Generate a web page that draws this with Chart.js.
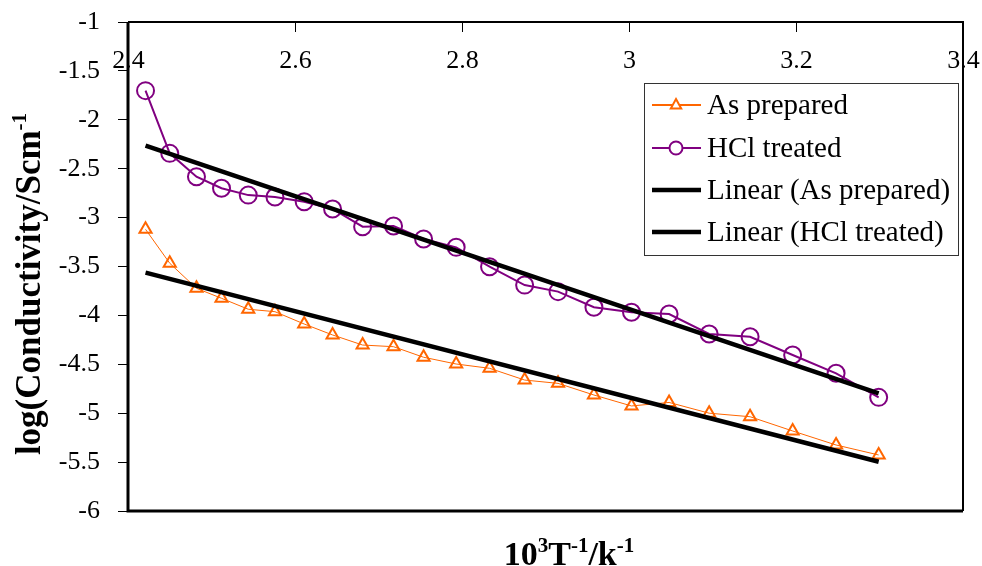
<!DOCTYPE html>
<html>
<head>
<meta charset="utf-8">
<script src="https://cdn.jsdelivr.net/npm/chart.js@4/dist/chart.umd.min.js"></script>
<style>
  body { margin: 0; background: #fff; }
  canvas { display: block; }
</style>
</head>
<body>
<canvas id="cond" width="982" height="566"></canvas>
<script>
// conductivity vs inverse temperature

const xValues = [2.421, 2.450, 2.482, 2.512, 2.544, 2.576, 2.611, 2.645, 2.681, 2.718, 2.754, 2.793,
                 2.833, 2.875, 2.915, 2.958, 3.003, 3.048, 3.096, 3.145, 3.196, 3.248, 3.299];

const asPrepared = [-3.12, -3.467, -3.723, -3.825, -3.937, -3.962, -4.088, -4.20, -4.303, -4.32, -4.428, -4.497,
                    -4.541, -4.661, -4.695, -4.814, -4.926, -4.89, -5.00, -5.036, -5.182, -5.325, -5.427];

const hclTreated = [-1.702, -2.343, -2.582, -2.70, -2.77, -2.79, -2.837, -2.912, -3.093, -3.086, -3.219, -3.304,
                    -3.502, -3.69, -3.757, -3.917, -3.968, -3.986, -4.19, -4.218, -4.405, -4.592, -4.838];

// trendline end points
const fitX = [2.421, 3.299];
const fitAsPrepared = [-3.563, -5.496];
const fitHcl = [-2.265, -4.797];

const legendLabels = ['As prepared', 'HCl treated', 'Linear (As prepared)', 'Linear (HCl treated)'];

const serif = '"Liberation Serif", "Times New Roman", serif';

function pts(xs, ys) {
    return xs.map((x, i) => ({ x: x, y: ys[i] }));
}

function fmt(v) {
    return String(Number(v.toFixed(1)));
}

function noPad(s) {
    s.paddingTop = 0;
    s.paddingBottom = 0;
    s.paddingLeft = 0;
    s.paddingRight = 0;
}

// frame, top axis labels, axis titles and the boxed legend
const decorations = {
    id: 'decorations',
    afterDraw(chart) {
        const ctx = chart.ctx;
        const a = chart.chartArea;
        const xs = chart.scales.x;
        ctx.save();

        // x ticks point down into the plot, labels sit under the top edge
        ctx.strokeStyle = '#000';
        ctx.lineWidth = 1;
        ctx.fillStyle = '#000';
        ctx.font = '26px ' + serif;
        ctx.textAlign = 'center';
        ctx.textBaseline = 'middle';
        xs.ticks.forEach(t => {
            const px = Math.round(xs.getPixelForValue(t.value)) + 0.5;
            ctx.beginPath();
            ctx.moveTo(px, a.top);
            ctx.lineTo(px, a.top + 10);
            ctx.stroke();
            ctx.fillText(fmt(t.value), px, a.top + 39);
        });

        // plot frame
        ctx.lineWidth = 2;
        ctx.beginPath();
        ctx.moveTo(a.left, a.top);
        ctx.lineTo(a.right, a.top);
        ctx.lineTo(a.right, a.bottom);
        ctx.stroke();
        ctx.lineWidth = 3;
        ctx.beginPath();
        ctx.moveTo(a.left, a.top);
        ctx.lineTo(a.left, a.bottom);
        ctx.lineTo(a.right, a.bottom);
        ctx.stroke();

        // x title: 10^3 T^-1 / k^-1
        const big = 'bold 34px ' + serif;
        const small = 'bold 21px ' + serif;
        const xParts = [['10', 0], ['3', 1], ['T', 0], ['-1', 1], ['/', 0], ['k', 0], ['-1', 1]];
        let total = 0;
        xParts.forEach(p => { ctx.font = p[1] ? small : big; total += ctx.measureText(p[0]).width; });
        let cx = 569 - total / 2;
        ctx.textBaseline = 'alphabetic';
        ctx.textAlign = 'left';
        xParts.forEach(p => {
            ctx.font = p[1] ? small : big;
            ctx.fillText(p[0], cx, p[1] ? 552 : 565);
            cx += ctx.measureText(p[0]).width;
        });

        // y title, rotated
        ctx.save();
        ctx.translate(40, 284);
        ctx.rotate(-Math.PI / 2);
        const yBig = 'bold 35px ' + serif;
        const ySmall = 'bold 21px ' + serif;
        ctx.font = yBig;
        const w1 = ctx.measureText('log(Conductivity/Scm').width;
        ctx.font = ySmall;
        const w2 = ctx.measureText('-1').width;
        const sx = -(w1 + w2) / 2;
        ctx.font = yBig;
        ctx.fillText('log(Conductivity/Scm', sx, 0);
        ctx.font = ySmall;
        ctx.fillText('-1', sx + w1, -14);
        ctx.restore();

        // legend
        const lx = 644, ly = 83, lw = 314, lh = 172;
        ctx.fillStyle = '#fff';
        ctx.fillRect(lx, ly, lw, lh);
        ctx.strokeStyle = '#333';
        ctx.lineWidth = 1;
        ctx.strokeRect(lx + 0.5, ly + 0.5, lw, lh);

        const rows = [105, 148, 190, 232];
        ctx.font = '29px ' + serif;
        ctx.textBaseline = 'middle';
        legendLabels.forEach((label, i) => {
            const ds = chart.data.datasets.find(d => d.label === label);
            const y = rows[i];
            ctx.strokeStyle = ds.borderColor;
            ctx.lineWidth = ds.pointRadius ? 2 : 4.5;
            ctx.beginPath();
            ctx.moveTo(652, y);
            ctx.lineTo(701, y);
            ctx.stroke();
            if (ds.pointStyle === 'triangle') {
                const r = 6;
                ctx.fillStyle = '#fff';
                ctx.beginPath();
                ctx.moveTo(676, y - r);
                ctx.lineTo(676 + r * 0.87, y + r * 0.6);
                ctx.lineTo(676 - r * 0.87, y + r * 0.6);
                ctx.closePath();
                ctx.fill();
                ctx.stroke();
            } else if (ds.pointStyle === 'circle') {
                ctx.fillStyle = '#fff';
                ctx.beginPath();
                ctx.arc(676, y, 6.5, 0, Math.PI * 2);
                ctx.fill();
                ctx.stroke();
            }
            ctx.fillStyle = '#000';
            ctx.fillText(label, 707, y + 1);
        });

        ctx.restore();
    }
};

new Chart(document.getElementById('cond'), {
    type: 'line',
    data: {
        datasets: [
            {
                label: 'Linear (As prepared)',
                data: pts(fitX, fitAsPrepared),
                borderColor: '#000',
                borderWidth: 4.5,
                pointRadius: 0,
                order: 0
            },
            {
                label: 'Linear (HCl treated)',
                data: pts(fitX, fitHcl),
                borderColor: '#000',
                borderWidth: 4.5,
                pointRadius: 0,
                order: 0
            },
            {
                label: 'As prepared',
                data: pts(xValues, asPrepared),
                borderColor: '#FF6600',
                borderWidth: 1,
                pointStyle: 'triangle',
                pointRadius: 7,
                pointBorderWidth: 2,
                pointBackgroundColor: 'rgba(255,255,255,0)',
                pointBorderColor: '#FF6600',
                order: 1
            },
            {
                label: 'HCl treated',
                data: pts(xValues, hclTreated),
                borderColor: '#800080',
                borderWidth: 2,
                pointStyle: 'circle',
                pointRadius: 8.5,
                pointBorderWidth: 2,
                pointBackgroundColor: 'rgba(255,255,255,0)',
                pointBorderColor: '#800080',
                order: 1
            }
        ]
    },
    options: {
        responsive: false,
        animation: false,
        layout: { padding: { left: 0, top: 0, right: 19, bottom: 55 } },
        plugins: {
            legend: { display: false },
            tooltip: { enabled: false }
        },
        scales: {
            x: {
                type: 'linear',
                position: 'top',
                min: 2.4,
                max: 3.4,
                afterFit: s => { s.height = 22; noPad(s); },
                border: { display: false },
                grid: { display: false },
                ticks: { stepSize: 0.2, display: false }
            },
            y: {
                type: 'linear',
                min: -6,
                max: -1,
                afterFit: s => { s.width = 128; noPad(s); },
                border: { display: false },
                grid: { drawOnChartArea: false, tickLength: 10, color: '#000', lineWidth: 1 },
                ticks: {
                    stepSize: 0.5,
                    padding: 18,
                    color: '#000',
                    font: { family: serif, size: 26 },
                    callback: v => fmt(v)
                }
            }
        }
    },
    plugins: [decorations]
});
</script>
</body>
</html>
